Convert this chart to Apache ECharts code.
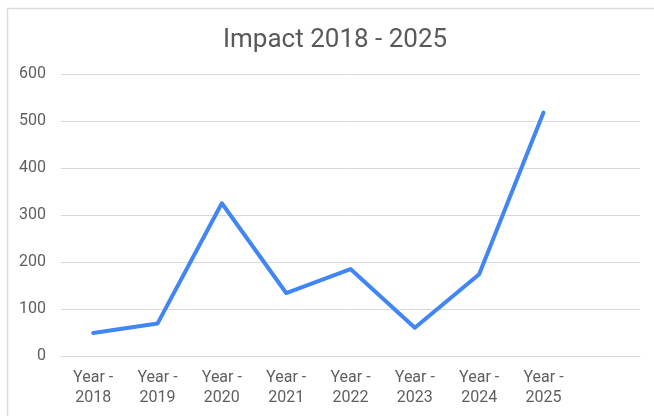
<!DOCTYPE html>
<html>
<head>
<meta charset="utf-8">
<script src="https://cdn.jsdelivr.net/npm/echarts@6/dist/echarts.min.js"></script>
<style>
html,body{margin:0;padding:0;background:#fff;}
#chart{width:654px;height:416px;}
</style>
</head>
<body>
<div id="chart"></div>
<script>
const titleText = 'Impact 2018 - 2025';
const categories = ['Year -\n2018','Year -\n2019','Year -\n2020','Year -\n2021','Year -\n2022','Year -\n2023','Year -\n2024','Year -\n2025',''];
const values = [49, 69, 325, 134, 185, 60, 174, 518];
const yTicks = {min: 0, max: 600, interval: 100};

const chart = echarts.init(document.getElementById('chart'), null, {renderer: 'canvas'});
chart.setOption({
  backgroundColor: '#fff',
  animation: false,
  graphic: [{
    type: 'rect', left: 5, top: 6, silent: true,
    shape: {x: 0, y: 0, width: 700, height: 500},
    style: {fill: 'none', stroke: '#dcdcdc', lineWidth: 1.5}
  }],
  title: {
    text: titleText, left: 218, top: 22,
    textStyle: {fontFamily: 'Roboto', fontSize: 26, fontWeight: 'normal', color: '#595959'}
  },
  grid: {left: 61, right: 14, top: 74, bottom: 60, outerBoundsMode: 'none'},
  xAxis: {
    type: 'category', data: categories, boundaryGap: true,
    axisLine: {show: true, lineStyle: {color: '#d9d9d9', width: 1}},
    axisTick: {show: false},
    axisLabel: {fontFamily: 'Roboto', fontSize: 16, color: '#5f5f5f', lineHeight: 20, margin: 12, interval: 0}
  },
  yAxis: {
    type: 'value', min: yTicks.min, max: yTicks.max, interval: yTicks.interval,
    axisLine: {show: false}, axisTick: {show: false},
    splitLine: {lineStyle: {color: '#d9d9d9', width: 1}},
    axisLabel: {fontFamily: 'Roboto', fontSize: 16, color: '#5f5f5f', margin: 15}
  },
  series: [{
    type: 'line', data: values, showSymbol: false, symbol: 'none',
    lineStyle: {color: '#4285F4', width: 4, cap: 'round', join: 'round'},
    itemStyle: {color: '#4285F4'}
  }]
});
</script>
</body>
</html>
